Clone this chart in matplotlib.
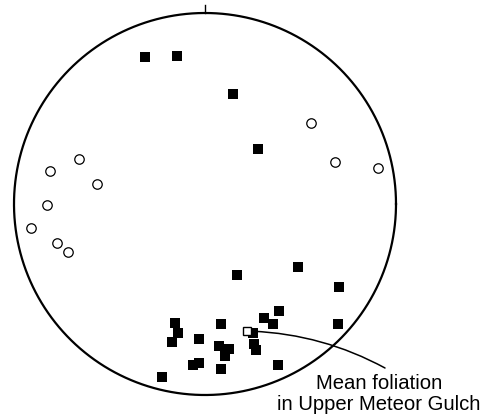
#!/usr/bin/env python3
# -*- coding: utf-8 -*-
"""
Equal-area net: poles to foliation (filled squares), other poles (open circles)
and the mean foliation of Upper Meteor Gulch.
"""

import numpy as np
import matplotlib
matplotlib.use('Agg')
import matplotlib.pyplot as plt

plt.rcParams['font.family'] = ['Liberation Sans', 'DejaVu Sans']

# positions on the unit net (x east, y north)
foliation_x = [-0.314, -0.147, 0.147, 0.277, 0.487, 0.168, 0.702, 0.387, 0.309,
               0.356, 0.696, -0.157, -0.141, -0.173, 0.084, -0.031, 0.251,
               0.257, 0.267, 0.073, 0.126, 0.105, -0.031, -0.063, 0.084,
               0.382, -0.225]
foliation_y = [0.770, 0.775, 0.576, 0.288, -0.330, -0.372, -0.435, -0.560,
               -0.597, -0.628, -0.628, -0.623, -0.675, -0.723, -0.628, -0.707,
               -0.675, -0.733, -0.764, -0.743, -0.759, -0.796, -0.832, -0.843,
               -0.864, -0.843, -0.906]

other_x = [0.555, -0.660, -0.812, -0.565, -0.827, -0.911, -0.775, -0.717,
           0.681, 0.906]
other_y = [0.424, 0.236, 0.173, 0.105, -0.005, -0.126, -0.204, -0.251,
           0.220, 0.188]

mean_x = [0.220]
mean_y = [-0.665]

LABEL = 'Mean foliation\nin Upper Meteor Gulch'


def make_net():
    fig = plt.figure(figsize=(4.91, 4.17), dpi=100)
    ax = fig.add_axes([0, 0, 1, 1])
    s = 191.0  # pixels per net radius
    ax.set_xlim(-205 / s, (491 - 205) / s)
    ax.set_ylim((204 - 417) / s, 204 / s)
    ax.set_aspect('equal')
    ax.axis('off')

    t = np.linspace(0, 2 * np.pi, 400)
    ax.plot(np.cos(t), np.sin(t), color='black', lw=1.6)
    ax.plot([0, 0], [1, 1.04], color='black', lw=1.0)

    ax.plot(foliation_x, foliation_y, 's', ms=6.5, color='black', mew=0)
    ax.plot(other_x, other_y, 'o', ms=6.8, mfc='white', mec='black', mew=0.9)
    ax.plot(mean_x, mean_y, 's', ms=6.0, mfc='white', mec='black', mew=1.0)

    ax.annotate('', xy=(mean_x[0], mean_y[0]), xytext=(385, 49),
                textcoords='figure pixels',
                arrowprops=dict(arrowstyle='-', color='black', lw=1.1,
                                shrinkA=0, shrinkB=4,
                                connectionstyle='arc3,rad=0.12'))
    fig.text(379, 23, LABEL, transform=None, ha='center', va='center',
             fontsize=14.6, linespacing=1.12)
    fig.savefig('out.png', dpi=100, facecolor='white')


if __name__ == '__main__':
    make_net()
